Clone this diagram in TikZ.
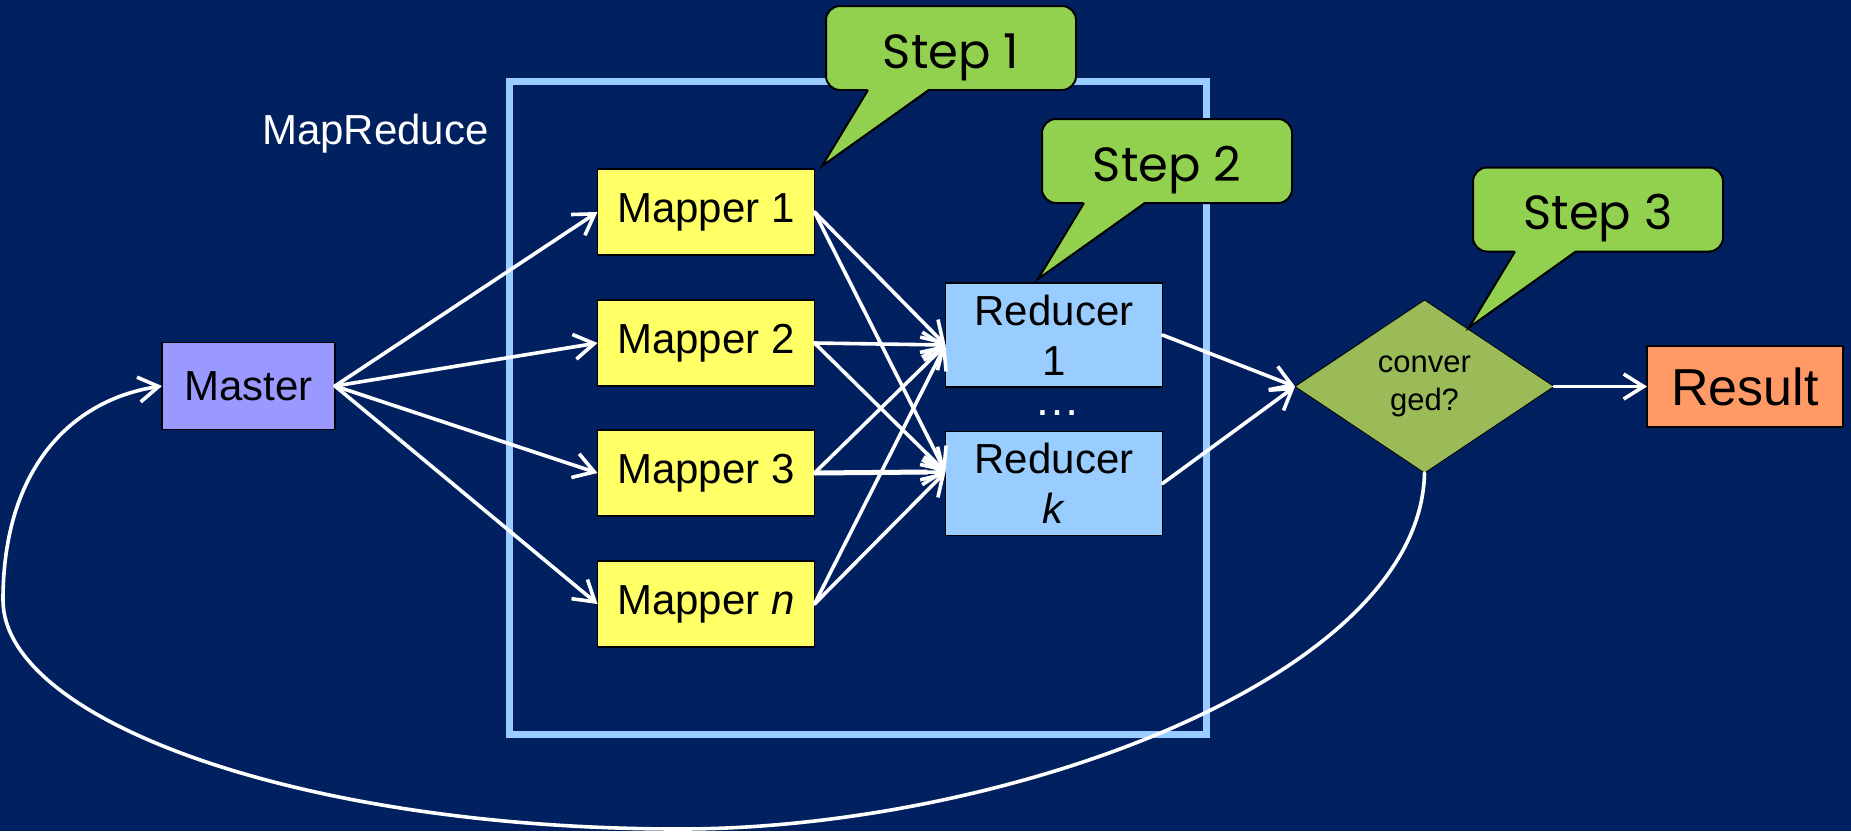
\documentclass[tikz,border=0pt]{standalone}
\usepackage{fontspec}
\setmainfont{Liberation Sans}
\newfontfamily\stepfont{Poppins}
\usetikzlibrary{arrows.meta,shapes.geometric,calc}

\definecolor{bgnavy}{HTML}{002060}
\definecolor{frameblue}{HTML}{99CCFF}
\definecolor{mapperyellow}{HTML}{FFFF66}
\definecolor{reducerblue}{HTML}{99CCFF}
\definecolor{masterviolet}{HTML}{9999FF}
\definecolor{decisiongreen}{HTML}{9BBB59}
\definecolor{resultorange}{HTML}{FF9966}
\definecolor{calloutgreen}{HTML}{92D050}

% tail of a speech bubble, hanging below the bubble's left part
\newcommand\steptail[1]{%
  \fill[calloutgreen] ($(#1.south west)+(42,-1.5)$) -- ($(#1.south west)+(-4,76)$)
        -- ($(#1.south west)+(103,-1.5)$) -- cycle;
  \draw[black, line width=2pt, line join=miter] ($(#1.south west)+(42,0)$)
        -- ($(#1.south west)+(-4,76)$) -- ($(#1.south west)+(103,0)$);
}

\begin{document}
\begin{tikzpicture}[x=1pt, y=-1pt,
  box/.style={draw=black, line width=1.2pt, inner sep=0pt, outer sep=0pt,
              minimum width=217pt, minimum height=86pt, align=center,
              font=\fontsize{42}{50}\selectfont},
  mapperbox/.style={box, fill=mapperyellow},
  reducerbox/.style={box, fill=reducerblue, minimum height=104pt},
  masterbox/.style={box, fill=masterviolet, minimum width=173pt, minimum height=87pt},
  resultbox/.style={box, fill=resultorange, minimum width=196pt, minimum height=81pt,
              font=\fontsize{52}{60}\selectfont},
  decision/.style={diamond, draw=black, line width=0.8pt, fill=decisiongreen,
              inner sep=0pt, outer sep=0pt, minimum width=259pt, minimum height=173pt,
              align=center, font=\fontsize{31}{38}\selectfont},
  stepbox/.style={draw=black, line width=2pt, fill=calloutgreen, rounded corners=14pt,
              minimum width=250pt, minimum height=84pt, inner sep=0pt, outer sep=0pt,
              text height=40pt, text depth=0pt,
              font=\stepfont\fontsize{48}{56}\selectfont},
  flow/.style={draw=white, line width=3.6pt, line cap=round,
              -{Straight Barb[length=20pt,width=25pt,line cap=butt]}},
]
% canvas
\fill[bgnavy] (0,0) rectangle (1851,831);
\useasboundingbox (0,0) rectangle (1851,831);

% MapReduce frame and its label
\draw[frameblue, line width=7pt] (509.5,81) rectangle (1206.5,734.5);
\node[anchor=base, text=white, font=\fontsize{42}{50}\selectfont] (mrlabel) at (375.5,144) {MapReduce};

% nodes
\node[masterbox] (master) at (248.5,386) {Master};
\node[mapperbox] (m1) at (706,212) {Mapper 1};
\node[mapperbox] (m2) at (706,343) {Mapper 2};
\node[mapperbox] (m3) at (706,473) {Mapper 3};
\node[mapperbox] (mn) at (706,604) {Mapper \textit{n}};
\node[reducerbox] (r1) at (1054,335) {Reducer\\1};
\node[reducerbox] (rk) at (1054,483.5) {Reducer\\\textit{k}};
\node[anchor=base, inner sep=0pt, text=white, font=\fontsize{46}{50}\selectfont] (dots) at (1057,415) {\dots};
\node[decision] (dec) at (1424.5,386.5) {conver\\ged?};
\node[resultbox] (res) at (1745,386.5) {Result};

% entry points on the reducers
\coordinate (r1in) at ($(r1.west)+(0,10)$);
\coordinate (rkin) at ($(rk.west)+(0,-11.5)$);

% master to mappers
\foreach \m in {m1,m2,m3,mn} \draw[flow] (master.east) -- (\m.west);

% every mapper feeds every reducer
\foreach \m in {m1,m2,m3,mn} {
  \draw[flow] (\m.east) -- (r1in);
  \draw[flow] (\m.east) -- (rkin);
}
\draw[white, line width=5pt] (m3.east) -- ($(rkin)+(-18,0)$);

% reducers to the convergence test, then to the result
\draw[flow] (r1.east) -- (dec.west);
\draw[flow] (rk.east) -- (dec.west);
\draw[flow] (dec.east) -- (res.west);

% not converged: back to the master
\draw[flow] (dec.south) .. controls (1420,680) and (1000,829) .. (680,829)
  .. controls (300,829) and (3,720) .. (3,600)
  .. controls (3,470) and (70,400) .. (master.west);

% step call-outs
\node[stepbox] (s1) at (951,48) {Step 1};
\steptail{s1}
\node[stepbox] (s2) at (1167,161) {Step 2};
\steptail{s2}
\node[stepbox] (s3) at (1598,209.5) {Step 3};
\steptail{s3}
\end{tikzpicture}
\end{document}
